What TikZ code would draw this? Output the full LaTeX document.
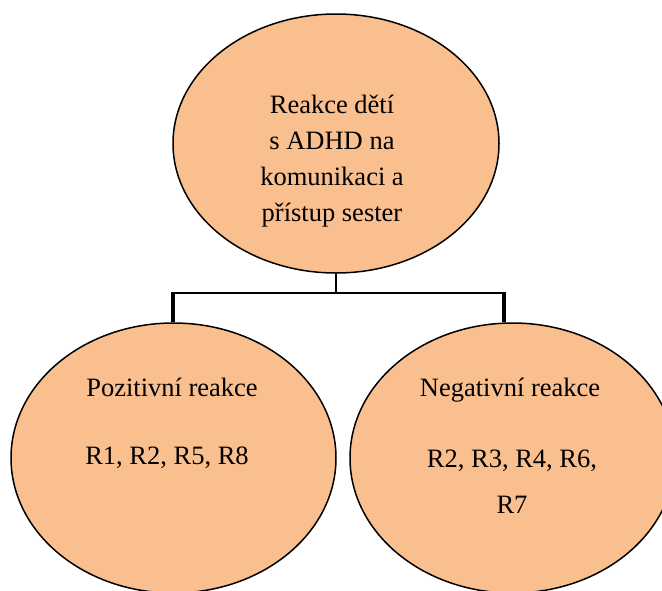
\documentclass[tikz,border=0pt]{standalone}
\usepackage{fontspec}
\setmainfont{Liberation Serif}
\usetikzlibrary{shapes.geometric}
\definecolor{peach}{HTML}{FABF8F}
\begin{document}
\begin{tikzpicture}[x=1pt,y=-1pt,
  bubble/.style={ellipse,draw=black,line width=1.5pt,fill=peach,inner sep=0pt},
  label text/.style={inner sep=0pt,font=\fontsize{26.5}{36}\selectfont,align=center},
  thinconn/.style={draw=black,line width=1.4pt},
  thickconn/.style={draw=black,line width=4pt}]
  \useasboundingbox (0,0) rectangle (662,590);

  % ellipses
  \node[bubble,minimum width=326pt,minimum height=259pt] (top) at (336,143.5) {};
  \node[bubble,minimum width=325pt,minimum height=270pt] (left) at (173.5,458) {};
  \node[bubble,minimum width=325pt,minimum height=270pt] (right) at (512.5,458) {};

  % texts
  \node[label text] (toptext) at (332,161) {Reakce dětí\\s ADHD na\\komunikaci a\\přístup sester};
  \node[label text,anchor=base] (lefthead) at (172,396) {Pozitivní reakce};
  \node[label text,anchor=base] (leftlist) at (167,464) {R1, R2, R5, R8};
  \node[label text,anchor=base] (righthead) at (510,396) {Negativní reakce};
  \node[label text,font=\fontsize{26.5}{46}\selectfont] (rightlist) at (512,482) {R2, R3, R4, R6,\\R7};

  % connectors
  \coordinate (busL) at (173,293);
  \coordinate (busR) at (504,293);
  \draw[thinconn] (top.south) -- (top.south |- busL);
  \draw[thinconn] ([xshift=-2pt]busL) -- ([xshift=2pt]busR);
  \draw[thickconn] (busL) -- (busL |- left.north);
  \draw[thickconn] (busR) -- (busR |- right.north);
\end{tikzpicture}
\end{document}
